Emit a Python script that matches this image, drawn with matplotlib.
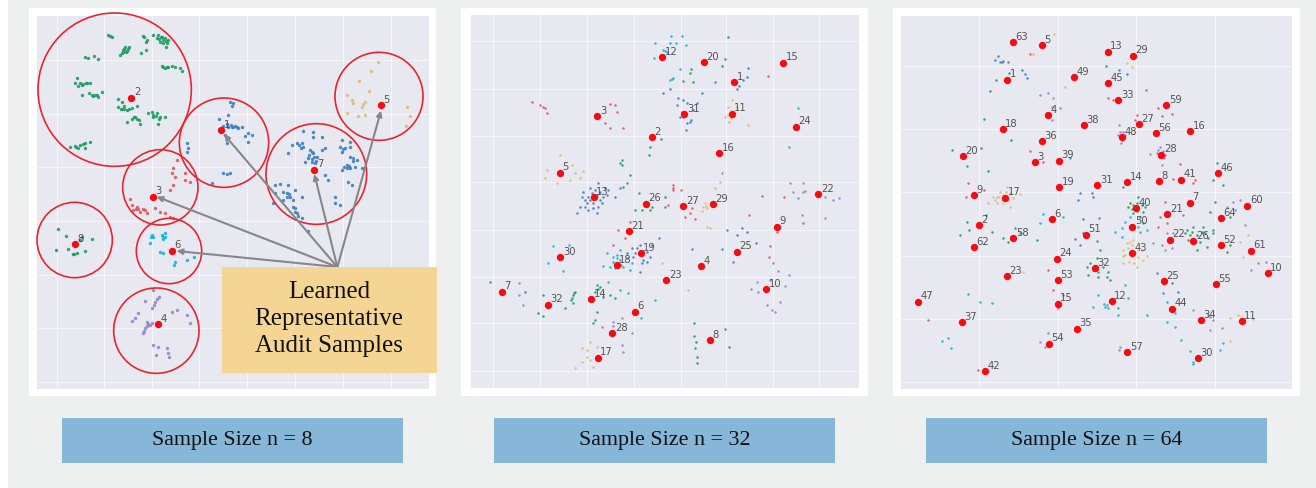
# three audit sample panels, coordinates
import matplotlib
matplotlib.use("Agg")
import matplotlib.pyplot as plt
from matplotlib.patches import Circle, Rectangle

W, H = 1316, 488

colors = {"green": "#1f9d62", "blue": "#3f7fba", "red": "#e2565d", "cyan": "#17b4cf",
          "purple": "#9686c6", "tan": "#dfbd78"}

# panel 1 (n = 8)
p1_labels = [1, 2, 3, 4, 5, 6, 7, 8]
p1_x = [664, 394, 459, 473, 1143, 516, 943, 226]
p1_y = [391, 293, 590, 973, 316, 752, 509, 733]
p1_circle_x = [672, 344, 481, 469, 1137, 507, 949, 224]
p1_circle_y = [428, 269, 562, 992, 289, 753, 522, 720]
p1_circle_r = [134, 230, 113, 128, 132, 98, 151, 113]
p1_green = [(330,108),(335,112),(325,105),(432,112),(440,120),(428,108),(438,125),(460,105),(475,105),(485,110),
            (495,115),(470,115),(480,125),(490,128),(500,130),(498,142),(505,120),(375,140),(385,148),(370,150),
            (365,160),(360,165),(378,155),(388,142),(438,150),(423,158),(255,172),(265,175),(282,168),(295,176),
            (485,197),(500,200),(515,198),(525,200),(540,205),(545,212),(495,205),(232,235),(225,250),(235,258),
            (245,255),(258,248),(270,250),(245,285),(268,280),(280,288),(295,292),(305,275),(290,285),(355,298),
            (365,305),(372,318),(355,322),(365,328),(380,330),(395,325),(410,318),(380,365),(395,358),(405,350),
            (418,360),(420,372),(445,340),(455,335),(470,340),(480,350),(495,352),(460,352),(475,372),(210,440),
            (225,438),(240,435),(255,428),(270,425),(235,445),(255,445),(175,687),(198,708),(245,710),(240,720),
            (275,716),(168,750),(205,748),(220,762),(230,758),(255,752),
            (482,112),(490,120),(478,118),(497,124),(372,146),(380,152),(368,156),(262,250),(250,252),(240,250),
            (285,284),(275,284),(362,326),(372,328),(386,326),(402,352),(412,356),(458,344),(468,348),(478,356),
            (505,200),(490,200),(228,440),(248,432),(222,762)]
p1_blue = [(690,305),(700,310),(695,318),(658,358),(685,345),(680,372),(692,375),(705,378),(715,385),(670,378),
           (675,405),(685,415),(680,430),(735,408),(745,400),(755,405),(745,425),(725,380),(560,430),(565,445),
           (562,455),(668,518),(680,522),(690,520),(635,550),(908,392),(940,395),(940,412),(965,412),(1025,420),
           (1050,425),(875,435),(890,430),(905,428),(910,440),(865,460),(930,450),(940,460),(950,470),(925,475),
           (915,485),(935,485),(945,490),(965,450),(975,445),(1020,440),(1035,445),(1050,440),(1025,455),(1050,470),
           (1060,475),(1072,480),(1040,495),(1025,510),(1050,505),(1065,500),(1085,505),(985,540),(1045,545),(1055,555),
           (975,525),(825,555),(840,552),(865,555),(850,575),(860,580),(825,580),(870,590),(885,570),(905,592),
           (1005,590),(1005,610),(1020,615),(880,620),(885,635),(895,648),(905,655),(820,610),(925,692),(850,600),(880,600),
           (935,455),(928,465),(942,470),(935,478),(948,482),(898,435),(902,445),(1040,505),(1032,500),(1048,498),
           (1058,482),(1030,448),(885,625),(890,640),(860,590),(868,582),(695,380),(700,382),(710,380),(685,380)]
p1_red = [(530,480),(520,505),(515,520),(525,530),(555,520),(555,540),(570,545),(520,555),(510,570),(390,598),
          (395,615),(410,620),(420,635),(435,630),(400,630),(440,640),(465,625),(480,635),(495,640),(510,650),(520,655),
          (415,628),(428,628),(408,628)]
p1_cyan = [(455,705),(460,712),(485,705),(490,718),(495,700),(480,755),(490,760),(525,785),(522,795),(560,780),
           (582,772),(545,755),(450,730),(488,712),(494,710),(452,710)]
p1_purple = [(460,870),(478,890),(465,905),(455,925),(435,902),(415,940),(405,955),(395,962),(440,965),(450,975),
             (435,985),(430,1000),(455,970),(530,930),(515,935),(560,945),(570,968),(460,1035),(475,1040),(468,1065),
             (500,1045),(505,1060),(508,1072),(445,972),(440,978),(432,992),(462,915),(470,898)]
p1_tan = [(1133,187),(1112,212),(1078,243),(1108,273),(1040,285),(1055,300),(1058,310),(1095,305),(1085,320),
          (1075,348),(1095,345),(1040,340),(1222,322),(1230,348),(1218,378),(1090,312)]
p1_arrow_targets = [(672,403),(470,590),(530,753),(943,522),(1143,332)]
p1_arrow_start = (1012, 801)

# panel 2 (n = 32)
p2_labels = [12,20,15,1,3,31,11,24,2,16,5,13,22,26,27,29,9,21,25,19,30,18,4,23,10,7,14,32,6,28,8,17]
p2_x = [636,761,1000,852,442,703,845,1037,605,808,330,431,1105,588,700,788,981,536,860,572,331,500,752,649,949,155,423,293,555,487,781,443]
p2_y = [171,187,188,246,348,342,341,380,411,459,518,591,583,611,618,612,680,694,755,760,771,795,799,841,868,875,897,914,935,999,1021,1073]
p2_cyan = [(662,108),(615,128),(640,150),(650,155),(660,130),(678,130),(695,108),(708,135),(613,175),(668,235),
           (660,240),(690,208),(1045,323),(1017,440),(308,738),(358,735),(295,790),(340,812),(325,770),(475,845),
           (470,760),(490,770),(500,765),(510,780),(480,800),(460,798),(495,805),(520,800),(540,810),(530,775),
           (510,750),(545,790),(572,955),(615,900),(510,870),(535,880),(645,152),(665,238),(500,775),(488,785),(512,795)]
p2_green = [(835,110),(722,208),(720,220),(825,178),(815,198),(700,243),(728,245),(632,418),(600,440),(598,465),
            (515,480),(515,495),(510,490),(540,525),(530,550),(520,560),(568,580),(555,630),(600,630),(575,630),
            (605,620),(645,592),(645,620),(375,875),(368,885),(362,900),(370,910),(440,855),(450,860),(435,875),
            (460,890),(480,885),(495,895),(440,935),(435,960),(430,970),(345,925),(265,940),(280,948),(278,885),
            (733,968),(732,1008),(738,1025),(736,1045),(742,1070),(742,1090),(825,987),(838,1040),(365,895),(372,880),(445,868)]
p2_blue = [(895,205),(890,230),(880,240),(868,258),(860,268),(795,245),(640,280),(660,268),(755,278),(685,295),
           (700,300),(710,310),(680,315),(740,308),(695,335),(690,350),(730,330),(720,365),(708,390),(510,565),
           (495,590),(400,575),(420,565),(445,550),(465,565),(475,570),(415,590),(430,610),(450,600),(460,590),
           (405,620),(390,620),(380,640),(440,640),(415,630),(830,690),(860,705),(875,685),(890,697),(918,730),
           (815,748),(850,785),(570,735),(605,735),(628,715),(555,760),(580,780),(600,770),(570,815),(530,760),
           (727,747),(120,845),(225,875),(435,570),(450,575),(405,600),(440,585),(420,600),(455,610),(410,610),
           (430,625),(395,590),(470,585),(445,620),(425,580),(712,370),(722,360),(700,352),(560,745),(590,755),
           (575,790),(590,785),(550,770),(545,745)]
p2_red = [(247,305),(270,315),(285,325),(292,338),(480,312),(495,315),(500,335),(465,368),(480,385),(518,385),
          (670,555),(692,570),(670,570),(655,615),(725,625),(705,650),(735,658),(540,665),(505,690),(525,715),
          (490,735),(955,228),(935,588),(1003,592),(898,645),(960,738),(957,770),(982,695),(1060,670),(720,638),(278,322),(668,565)]
p2_purple = [(815,520),(1020,550),(1058,550),(1060,575),(1030,575),(1045,595),(1125,590),(1168,595),(1148,600),
             (1055,645),(1125,655),(208,850),(220,915),(208,885),(968,790),(985,812),(1017,825),(960,840),(920,845),
             (1005,858),(903,868),(925,875),(990,905),(950,915),(965,930),(975,935),(490,965),(455,980),(515,955),
             (545,1000),(515,1035),(518,1055),(1065,572),(490,978)]
p2_tan = [(330,465),(365,495),(400,512),(375,520),(292,510),(285,535),(320,550),(360,540),(390,535),(795,565),
          (810,545),(770,625),(755,632),(765,610),(770,680),(780,685),(845,300),(835,320),(825,350),(838,365),
          (860,320),(895,375),(715,870),(420,1025),(395,1045),(410,1070),(395,1085),(375,1105),(430,1100),(440,1040),(635,790),
          (768,618),(760,622),(835,345),(842,355),(410,1050),(420,1080)]

# panel 3 (n = 64)
p3_labels = [63,5,13,29,1,49,45,33,59,4,38,27,18,36,48,56,16,28,20,3,39,46,41,8,14,31,19,9,17,7,60,40,21,6,2,64,
             50,51,58,62,22,26,52,61,43,24,32,10,23,53,25,55,12,47,15,44,34,11,37,35,54,57,30,42]
p3_x = [399,486,683,759,381,583,685,715,859,505,612,776,368,486,725,827,931,844,248,465,537,1015,904,837,742,652,537,281,376,929,1102,767,862,515,297,1022,
        757,618,400,281,869,940,1022,1113,757,531,645,1163,380,533,852,1007,695,115,533,877,962,1085,246,591,506,742,953,316]
p3_y = [126,135,155,167,239,232,249,300,315,345,375,373,387,423,411,400,393,464,468,487,482,520,539,543,546,555,562,586,593,608,617,624,642,657,676,655,
        680,704,714,741,719,724,735,752,760,776,804,820,828,840,843,852,903,905,911,926,961,964,966,986,1031,1056,1074,1113]
p3_blue = [(355,168),(345,180),(365,185),(385,185),(388,220),(425,210),(435,222),(440,235),(348,240),(330,272),
           (678,197),(740,222),(718,210),(600,578),(635,578),(640,590),(595,600),(608,657),(658,655),(610,700),
           (585,718),(600,735),(650,722),(850,880),(895,875),(875,850),(830,820),(370,184),(360,186)]
p3_purple = [(480,285),(505,278),(520,295),(515,320),(540,325),(515,360),(718,375),(720,395),(725,420),(735,405),
             (840,440),(810,462),(830,460),(855,465),(845,495),(1095,675),(1060,605),(1080,600),(1040,620),(1065,630),
             (860,700),(820,730),(845,735),(855,750),(875,745),(880,700),(1135,790),(1158,785),(1112,810),(940,930),
             (985,945),(1000,960),(990,990),(1025,985),(480,1027),(505,1000),(495,1040),(720,1040),(718,1050),
             (715,405),(730,415),(722,430),(728,395),(835,450),(848,452),(838,470),(852,475),(990,950)]
p3_red = [(797,270),(685,295),(698,300),(835,323),(845,348),(875,342),(770,345),(765,360),(900,493),(880,538),
          (940,550),(945,540),(855,605),(840,650),(860,670),(835,680),(910,645),(265,550),(312,570),(258,590),
          (450,453),(490,487),(505,810),(520,870),(548,885),(535,925),(143,960),(295,1110),(450,163)]
p3_tan = [(522,102),(458,162),(555,262),(740,190),(755,200),(350,590),(365,600),(380,560),(390,580),(420,582),
          (325,610),(390,620),(740,730),(730,750),(760,720),(775,770),(800,768),(730,790),(770,800),(1105,705),
          (1080,725),(1090,770),(1075,945),(1120,958),(1050,955),(1050,1022),(430,815),
          (345,600),(358,590),(370,585),(385,600),(360,575),(378,575),(350,610),(400,595),(368,610),(340,592),
          (745,745),(755,735),(735,765),(765,755),(785,750),(748,785),(790,780),(728,768),(762,790),(750,725)]
p3_green = [(312,358),(215,450),(303,443),(262,497),(325,513),(262,665),(318,645),(268,690),(335,695),(240,705),
            (405,685),(370,715),(385,725),(420,700),(470,720),(1010,490),(1000,540),(1030,555),(750,610),(775,590),
            (795,620),(760,640),(780,650),(920,690),(940,680),(970,680),(1000,690),(925,720),(950,750),(980,740),
            (915,700),(1005,605),(1050,650),(990,635),(1050,735),(1040,755),(660,750),(630,790),(625,825),(655,830),
            (680,830),(690,840),(650,775),(730,560),(393,420),
            (760,615),(770,610),(785,615),(745,622),(790,635),(770,632),(755,628),(935,695),(950,705),(965,695),
            (930,705),(985,715),(960,725),(975,700),(945,725),(1000,700),(640,810),(668,800),(655,815),(620,800),(685,815)]
p3_cyan = [(490,642),(480,668),(550,650),(705,695),(725,685),(725,710),(735,665),(775,680),(800,690),(750,650),
           (265,882),(300,905),(335,910),(655,885),(640,920),(680,915),(715,925),(735,855),(745,895),(715,945),
           (800,945),(860,905),(885,940),(860,965),(885,980),(903,1020),(930,1053),(940,1085),(1030,1030),(1020,1050),
           (185,1023),(205,1015),(213,1045),(570,475),(675,920),(685,925),(672,912),(790,670),(780,695),(940,1092)]

titles = ["Sample Size n = 8", "Sample Size n = 32", "Sample Size n = 64"]
box_text = "Learned\nRepresentative\nAudit Samples"

fig = plt.figure(figsize=(W / 100, H / 100), dpi=100, facecolor="white")


def px_axes(x0, y0, x1, y1):
    return fig.add_axes([x0 / W, 1 - y1 / H, (x1 - x0) / W, (y1 - y0) / H])


# page background and the white frames / caption boxes
bg = fig.add_axes([0, 0, 1, 1], zorder=0)
bg.set_xlim(0, W)
bg.set_ylim(H, 0)
bg.axis("off")
bg.add_patch(Rectangle((8, 0), W - 8, H, color="#eef0f0", lw=0))
for fx, bx, t in zip([29, 461, 893], [62, 494, 926], titles):
    bg.add_patch(Rectangle((fx, 8), 407, 388, color="white", lw=0))
    bg.add_patch(Rectangle((bx, 418), 341, 45, color="#86b6d8", lw=0))
    bg.text(bx + 170.5, 441, t, ha="center", va="center", fontsize=15.8, family="Liberation Serif", color="#111111")

panels = [
    dict(off=0, xlim=(112, 1288), ylim=(1168, 48), vgrid=[170, 313, 457, 598, 742, 886, 1030, 1172],
         hgrid=[181, 342, 502, 662, 824, 985, 1145], x=p1_x, y=p1_y, labels=p1_labels,
         pts=dict(green=p1_green, blue=p1_blue, red=p1_red, cyan=p1_cyan, purple=p1_purple, tan=p1_tan)),
    dict(off=450, xlim=(63, 1227), ylim=(1165, 46), vgrid=[130, 270, 410, 552, 692, 828, 968, 1108],
         hgrid=[124, 268, 407, 546, 690, 830, 970, 1114], x=p2_x, y=p2_y, labels=p2_labels,
         pts=dict(green=p2_green, blue=p2_blue, red=p2_red, cyan=p2_cyan, purple=p2_purple, tan=p2_tan)),
    dict(off=880, xlim=(63, 1237), ylim=(1167, 48), vgrid=[297, 533, 769, 1005],
         hgrid=[197, 387, 576, 768, 957, 1145], x=p3_x, y=p3_y, labels=p3_labels,
         pts=dict(green=p3_green, blue=p3_blue, red=p3_red, cyan=p3_cyan, purple=p3_purple, tan=p3_tan)),
]

axes = []
for i, p in enumerate(panels):
    ax = px_axes(p["off"] + p["xlim"][0] / 3, p["ylim"][1] / 3, p["off"] + p["xlim"][1] / 3, p["ylim"][0] / 3)
    ax.set_zorder(1)
    ax.set_facecolor("#e8e8f1")
    ax.set_xlim(*p["xlim"])
    ax.set_ylim(*p["ylim"])
    ax.set_xticks(p["vgrid"])
    ax.set_yticks(p["hgrid"])
    ax.tick_params(length=0, labelbottom=False, labelleft=False)
    ax.grid(color="white", lw=0.7, alpha=0.6)
    ax.set_axisbelow(True)
    for s in ax.spines.values():
        s.set_visible(False)
    for name, pts in p["pts"].items():
        ax.scatter([q[0] for q in pts], [q[1] for q in pts], s=6 if i == 0 else 3.2, color=colors[name],
                   lw=0, alpha=0.9, zorder=2)
    ax.scatter(p["x"], p["y"], s=28, color="#f80a10", lw=0, zorder=4)
    for x, y, lab in zip(p["x"], p["y"], p["labels"]):
        ax.annotate(str(lab), (x, y), xytext=(1.8, 3.8), textcoords="offset points", fontsize=7.2,
                    color="#3a3a3a", alpha=0.85, va="center", ha="left", zorder=5)
    axes.append(ax)

# circles and arrows only in the first panel
ax = axes[0]
for x, y, r in zip(p1_circle_x, p1_circle_y, p1_circle_r):
    ax.add_patch(Circle((x, y), r, fill=False, ec="#e8252e", lw=1.2, clip_on=False, zorder=3))
for tx, ty in p1_arrow_targets:
    ax.annotate("", xy=(tx, ty), xytext=p1_arrow_start, zorder=3,
                arrowprops=dict(arrowstyle="-|>", color="#878789", lw=1.5, mutation_scale=8, shrinkA=0, shrinkB=0))

# callout box goes past the axes edge, so it sits on its own overlay
top = fig.add_axes([0, 0, 1, 1], zorder=3)
top.set_xlim(0, W)
top.set_ylim(H, 0)
top.axis("off")
top.add_patch(Rectangle((222, 267), 215, 106, color="#f5d594", lw=0))
top.text(329, 319, box_text, ha="center", va="center", fontsize=18, linespacing=1.28,
         family="Liberation Serif", color="#111111")

fig.savefig("out.png", dpi=100)
